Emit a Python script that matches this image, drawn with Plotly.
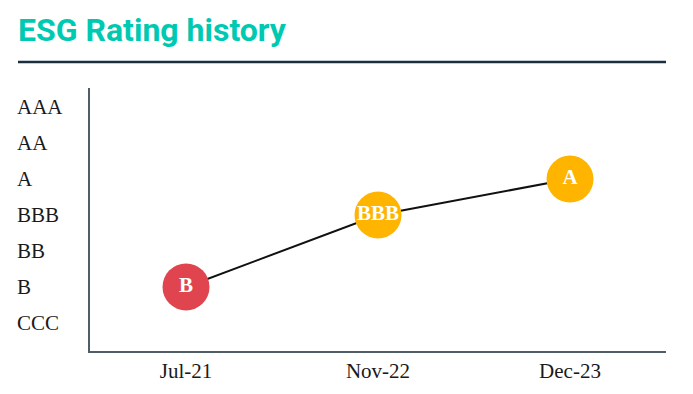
import plotly.graph_objects as go

ratings = ["CCC", "B", "BB", "BBB", "A", "AA", "AAA"]
dates = ["Jul-21", "Nov-22", "Dec-23"]
history = ["B", "BBB", "A"]
colors = ["#E0454F", "#FFB400", "#FFB400"]

W, H = 693, 394
ml, mr, mt, mb = 90, 27, 88, 43
pw = W - ml - mr
ph = H - mt - mb

xi = list(range(len(dates)))
yi = [ratings.index(r) for r in history]

fig = go.Figure()
fig.add_trace(go.Scatter(
    x=xi, y=yi, mode="lines",
    line=dict(color="#111111", width=2),
    hoverinfo="skip", showlegend=False,
))
fig.add_trace(go.Scatter(
    x=xi, y=yi, mode="markers+text",
    marker=dict(size=47, color=colors, line=dict(width=0)),
    text=history, textposition="middle center",
    textfont=dict(family="Liberation Serif", size=21, color="white", weight="bold"),
    showlegend=False,
))

annotations = []
for i, r in enumerate(ratings):
    annotations.append(dict(
        text=r, x=(15 - ml) / pw, xref="paper", y=i, yref="y",
        xanchor="left", yanchor="middle", showarrow=False,
        font=dict(family="Liberation Serif", size=21, color="#1A1A1A"),
    ))
annotations.append(dict(
    text="<b>ESG Rating history</b>", x=(16 - ml) / pw, xref="paper",
    y=(H - mb - 30) / ph, yref="paper", xanchor="left", yanchor="middle",
    showarrow=False,
    font=dict(family="Roboto", size=32, color="#00C9B1"),
))

fig.update_layout(
    width=W, height=H,
    margin=dict(l=ml, r=mr, t=mt, b=mb),
    paper_bgcolor="white", plot_bgcolor="white",
    xaxis=dict(
        range=[-0.5, 2.5], tickvals=xi, ticktext=dates,
        showgrid=False, zeroline=False, showline=True,
        linecolor="#4E5D66", linewidth=2, ticks="",
        tickfont=dict(family="Liberation Serif", size=21, color="#1A1A1A"),
        fixedrange=True,
    ),
    yaxis=dict(
        range=[-0.78, 6.53], showticklabels=False,
        showgrid=False, zeroline=False, showline=True,
        linecolor="#4E5D66", linewidth=2, ticks="",
        fixedrange=True,
    ),
    annotations=annotations,
    shapes=[dict(
        type="line", xref="paper", yref="paper",
        x0=(18 - ml) / pw, x1=(666 - ml) / pw,
        y0=(H - mb - 62) / ph, y1=(H - mb - 62) / ph,
        line=dict(color="#1B2E40", width=2.5),
    )],
)

fig.write_html("out.html", config={"displayModeBar": False})
